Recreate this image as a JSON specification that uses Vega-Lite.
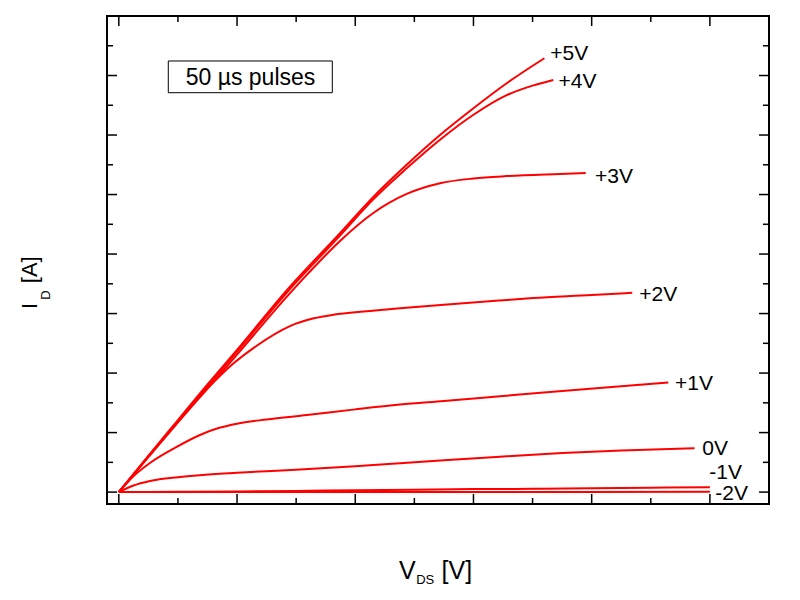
{
  "$schema": "https://vega.github.io/schema/vega-lite/v6.json",
  "width": 662,
  "height": 488,
  "autosize": {"type": "none"},
  "padding": {"left": 107, "top": 16, "right": 31, "bottom": 96},
  "background": "white",
  "config": {
    "font": "Liberation Sans",
    "view": {"stroke": "black", "strokeWidth": 2},
    "axis": {
      "grid": false,
      "domain": false,
      "title": null,
      "labelFont": "Liberation Sans",
      "labelColor": "black"
    }
  },
  "datasets": {
    "curves": [
      {"gate": "+5V", "vds": 0, "id": 0},
      {"gate": "+5V", "vds": 0.5, "id": 6.1},
      {"gate": "+5V", "vds": 1, "id": 12.1},
      {"gate": "+5V", "vds": 1.5, "id": 18.1},
      {"gate": "+5V", "vds": 2, "id": 23.9},
      {"gate": "+5V", "vds": 2.84, "id": 33.9},
      {"gate": "+5V", "vds": 3.742, "id": 43.5},
      {"gate": "+5V", "vds": 4.305, "id": 49.6},
      {"gate": "+5V", "vds": 4.87, "id": 55.0},
      {"gate": "+5V", "vds": 5.434, "id": 60.0},
      {"gate": "+5V", "vds": 6.0, "id": 64.5},
      {"gate": "+5V", "vds": 6.562, "id": 68.7},
      {"gate": "+5V", "vds": 7.2, "id": 72.9},
      {"gate": "+4V", "vds": 0, "id": 0},
      {"gate": "+4V", "vds": 0.5, "id": 6.0},
      {"gate": "+4V", "vds": 1, "id": 11.9},
      {"gate": "+4V", "vds": 1.5, "id": 17.8},
      {"gate": "+4V", "vds": 2, "id": 23.6},
      {"gate": "+4V", "vds": 2.84, "id": 33.5},
      {"gate": "+4V", "vds": 3.742, "id": 43.1},
      {"gate": "+4V", "vds": 4.305, "id": 49.2},
      {"gate": "+4V", "vds": 4.87, "id": 54.4},
      {"gate": "+4V", "vds": 5.434, "id": 59.2},
      {"gate": "+4V", "vds": 6.0, "id": 63.4},
      {"gate": "+4V", "vds": 6.562, "id": 66.7},
      {"gate": "+4V", "vds": 7.0, "id": 68.3},
      {"gate": "+4V", "vds": 7.35, "id": 69.25},
      {"gate": "+3V", "vds": 0, "id": 0},
      {"gate": "+3V", "vds": 0.5, "id": 5.9},
      {"gate": "+3V", "vds": 1, "id": 11.7},
      {"gate": "+3V", "vds": 1.5, "id": 17.4},
      {"gate": "+3V", "vds": 2, "id": 23.1},
      {"gate": "+3V", "vds": 2.84, "id": 32.8},
      {"gate": "+3V", "vds": 3.2, "id": 36.7},
      {"gate": "+3V", "vds": 3.742, "id": 42.2},
      {"gate": "+3V", "vds": 4.305, "id": 46.9},
      {"gate": "+3V", "vds": 4.87, "id": 50.1},
      {"gate": "+3V", "vds": 5.434, "id": 51.9},
      {"gate": "+3V", "vds": 6.0, "id": 52.7},
      {"gate": "+3V", "vds": 6.562, "id": 53.1},
      {"gate": "+3V", "vds": 7.464, "id": 53.45},
      {"gate": "+3V", "vds": 7.9, "id": 53.6},
      {"gate": "+2V", "vds": 0, "id": 0},
      {"gate": "+2V", "vds": 0.5, "id": 6.0},
      {"gate": "+2V", "vds": 1, "id": 11.8},
      {"gate": "+2V", "vds": 1.204, "id": 14.2},
      {"gate": "+2V", "vds": 1.5, "id": 17.4},
      {"gate": "+2V", "vds": 1.937, "id": 21.6},
      {"gate": "+2V", "vds": 2.333, "id": 24.6},
      {"gate": "+2V", "vds": 2.896, "id": 27.9},
      {"gate": "+2V", "vds": 3.3, "id": 29.2},
      {"gate": "+2V", "vds": 3.629, "id": 29.8},
      {"gate": "+2V", "vds": 4.2, "id": 30.4},
      {"gate": "+2V", "vds": 4.757, "id": 30.9},
      {"gate": "+2V", "vds": 5.5, "id": 31.5},
      {"gate": "+2V", "vds": 6.449, "id": 32.2},
      {"gate": "+2V", "vds": 7.01, "id": 32.6},
      {"gate": "+2V", "vds": 8.0, "id": 33.1},
      {"gate": "+2V", "vds": 8.687, "id": 33.5},
      {"gate": "+1V", "vds": 0, "id": 0},
      {"gate": "+1V", "vds": 0.25, "id": 2.7},
      {"gate": "+1V", "vds": 0.527, "id": 4.9},
      {"gate": "+1V", "vds": 0.979, "id": 7.6},
      {"gate": "+1V", "vds": 1.373, "id": 9.6},
      {"gate": "+1V", "vds": 1.7, "id": 10.8},
      {"gate": "+1V", "vds": 2.0, "id": 11.5},
      {"gate": "+1V", "vds": 2.5, "id": 12.2},
      {"gate": "+1V", "vds": 3.18, "id": 12.95},
      {"gate": "+1V", "vds": 4.0, "id": 13.9},
      {"gate": "+1V", "vds": 4.757, "id": 14.7},
      {"gate": "+1V", "vds": 5.5, "id": 15.3},
      {"gate": "+1V", "vds": 6.449, "id": 16.1},
      {"gate": "+1V", "vds": 7.5, "id": 17.0},
      {"gate": "+1V", "vds": 8.5, "id": 17.8},
      {"gate": "+1V", "vds": 9.297, "id": 18.4},
      {"gate": "0V", "vds": 0, "id": 0},
      {"gate": "0V", "vds": 0.25, "id": 1.1},
      {"gate": "0V", "vds": 0.527, "id": 1.85},
      {"gate": "0V", "vds": 1, "id": 2.5},
      {"gate": "0V", "vds": 1.373, "id": 2.85},
      {"gate": "0V", "vds": 2, "id": 3.25},
      {"gate": "0V", "vds": 3.065, "id": 3.8},
      {"gate": "0V", "vds": 4.0, "id": 4.35},
      {"gate": "0V", "vds": 4.757, "id": 4.85},
      {"gate": "0V", "vds": 5.5, "id": 5.35},
      {"gate": "0V", "vds": 6.449, "id": 5.95},
      {"gate": "0V", "vds": 7.5, "id": 6.55},
      {"gate": "0V", "vds": 8.5, "id": 7.0},
      {"gate": "0V", "vds": 9.74, "id": 7.36},
      {"gate": "-1V", "vds": 0, "id": 0},
      {"gate": "-1V", "vds": 1, "id": 0.05},
      {"gate": "-1V", "vds": 2, "id": 0.1},
      {"gate": "-1V", "vds": 3, "id": 0.2},
      {"gate": "-1V", "vds": 4, "id": 0.3},
      {"gate": "-1V", "vds": 5, "id": 0.4},
      {"gate": "-1V", "vds": 6, "id": 0.5},
      {"gate": "-1V", "vds": 7, "id": 0.55},
      {"gate": "-1V", "vds": 8, "id": 0.65},
      {"gate": "-1V", "vds": 9, "id": 0.75},
      {"gate": "-1V", "vds": 10, "id": 0.8},
      {"gate": "-2V", "vds": 0, "id": 0},
      {"gate": "-2V", "vds": 5, "id": 0.02},
      {"gate": "-2V", "vds": 10, "id": 0.05}
    ],
    "anno": [
      {"gate": "+5V", "x": 7.3, "y": 72.6},
      {"gate": "+4V", "x": 7.44, "y": 67.85},
      {"gate": "+3V", "x": 8.056, "y": 52.0},
      {"gate": "+2V", "x": 8.806, "y": 32.16},
      {"gate": "+1V", "x": 9.41, "y": 17.15},
      {"gate": "0V", "x": 9.87, "y": 6.23},
      {"gate": "-1V", "x": 9.99, "y": 2.14},
      {"gate": "-2V", "x": 10.09, "y": -1.33}
    ],
    "xmajor": [{"v": 0}, {"v": 2}, {"v": 4}, {"v": 6}, {"v": 8}, {"v": 10}],
    "xminor": [{"v": 1}, {"v": 3}, {"v": 5}, {"v": 7}, {"v": 9}],
    "ymajor": [{"v": 0}, {"v": 10}, {"v": 20}, {"v": 30}, {"v": 40}, {"v": 50}, {"v": 60}, {"v": 70}, {"v": 80}],
    "yminor": [{"v": 5}, {"v": 15}, {"v": 25}, {"v": 35}, {"v": 45}, {"v": 55}, {"v": 65}, {"v": 75}],
    "note": [
      {"text": "50 µs pulses", "x1": 0.837, "x2": 3.612, "y1": 67.11, "y2": 72.44, "tx": 2.228, "ty": 68.41}
    ],
    "xtitle": [
      {"t": "V", "x": 4.74, "y": -14.6},
      {"t": "[V]", "x": 5.46, "y": -14.6}
    ],
    "xsub": [
      {"t": "DS", "x": 5.03, "y": -15.45}
    ],
    "ytitle": [
      {"t": "I", "x": -1.384, "y": 30.75},
      {"t": "[A]", "x": -1.384, "y": 35.1}
    ],
    "ysub": [
      {"t": "D", "x": -1.17, "y": 32.3}
    ]
  },
  "layer": [
    {
      "data": {"name": "curves"},
      "mark": {"type": "line", "color": "#ff0000", "strokeWidth": 2, "interpolate": "monotone"},
      "encoding": {
        "x": {"field": "vds", "type": "quantitative", "scale": {"domain": [-0.2, 11], "nice": false, "zero": false},
              "axis": {"orient": "bottom", "values": [0, 2, 4, 6, 8, 10], "ticks": false, "labelPadding": 13, "labelFontSize": 23, "labelFlush": false}},
        "y": {"field": "id", "type": "quantitative", "scale": {"domain": [-2, 80], "nice": false, "zero": false},
              "axis": {"orient": "left", "values": [0, 10, 20, 30, 40, 50, 60, 70, 80], "ticks": false, "labelPadding": 11, "labelFontSize": 22, "labelFlush": false}},
        "detail": {"field": "gate", "type": "nominal"}
      }
    },
    {
      "data": {"name": "xmajor"},
      "mark": {"type": "rule", "color": "black", "strokeWidth": 1.5},
      "encoding": {
        "x": {"field": "v", "type": "quantitative", "axis": null},
        "y": {"datum": -2, "type": "quantitative", "axis": null},
        "y2": {"datum": -0.32}
      }
    },
    {
      "data": {"name": "xmajor"},
      "mark": {"type": "rule", "color": "black", "strokeWidth": 1.5},
      "encoding": {
        "x": {"field": "v", "type": "quantitative", "axis": null},
        "y": {"datum": 80, "type": "quantitative", "axis": null},
        "y2": {"datum": 78.32}
      }
    },
    {
      "data": {"name": "xminor"},
      "mark": {"type": "rule", "color": "black", "strokeWidth": 1.5},
      "encoding": {
        "x": {"field": "v", "type": "quantitative", "axis": null},
        "y": {"datum": -2, "type": "quantitative", "axis": null},
        "y2": {"datum": -0.99}
      }
    },
    {
      "data": {"name": "xminor"},
      "mark": {"type": "rule", "color": "black", "strokeWidth": 1.5},
      "encoding": {
        "x": {"field": "v", "type": "quantitative", "axis": null},
        "y": {"datum": 80, "type": "quantitative", "axis": null},
        "y2": {"datum": 78.99}
      }
    },
    {
      "data": {"name": "ymajor"},
      "mark": {"type": "rule", "color": "black", "strokeWidth": 1.5},
      "encoding": {
        "y": {"field": "v", "type": "quantitative", "axis": null},
        "x": {"datum": -0.2, "type": "quantitative", "axis": null},
        "x2": {"datum": -0.031}
      }
    },
    {
      "data": {"name": "ymajor"},
      "mark": {"type": "rule", "color": "black", "strokeWidth": 1.5},
      "encoding": {
        "y": {"field": "v", "type": "quantitative", "axis": null},
        "x": {"datum": 11, "type": "quantitative", "axis": null},
        "x2": {"datum": 10.831}
      }
    },
    {
      "data": {"name": "yminor"},
      "mark": {"type": "rule", "color": "black", "strokeWidth": 1.5},
      "encoding": {
        "y": {"field": "v", "type": "quantitative", "axis": null},
        "x": {"datum": -0.2, "type": "quantitative", "axis": null},
        "x2": {"datum": -0.098}
      }
    },
    {
      "data": {"name": "yminor"},
      "mark": {"type": "rule", "color": "black", "strokeWidth": 1.5},
      "encoding": {
        "y": {"field": "v", "type": "quantitative", "axis": null},
        "x": {"datum": 11, "type": "quantitative", "axis": null},
        "x2": {"datum": 10.898}
      }
    },
    {
      "data": {"name": "anno"},
      "mark": {"type": "text", "align": "left", "baseline": "alphabetic", "fontSize": 21, "color": "black", "font": "Liberation Sans"},
      "encoding": {
        "x": {"field": "x", "type": "quantitative", "axis": null},
        "y": {"field": "y", "type": "quantitative", "axis": null},
        "text": {"field": "gate", "type": "nominal"}
      }
    },
    {
      "data": {"name": "note"},
      "mark": {"type": "rect", "fill": "white", "stroke": "black", "strokeWidth": 1},
      "encoding": {
        "x": {"field": "x1", "type": "quantitative", "axis": null},
        "x2": {"field": "x2"},
        "y": {"field": "y1", "type": "quantitative", "axis": null},
        "y2": {"field": "y2"}
      }
    },
    {
      "data": {"name": "note"},
      "mark": {"type": "text", "align": "center", "baseline": "alphabetic", "fontSize": 23, "color": "black", "font": "Liberation Sans"},
      "encoding": {
        "x": {"field": "tx", "type": "quantitative", "axis": null},
        "y": {"field": "ty", "type": "quantitative", "axis": null},
        "text": {"field": "text", "type": "nominal"}
      }
    },
    {
      "data": {"name": "xtitle"},
      "mark": {"type": "text", "align": "left", "baseline": "alphabetic", "fontSize": 25, "color": "black", "font": "Liberation Sans"},
      "encoding": {
        "x": {"field": "x", "type": "quantitative", "axis": null},
        "y": {"field": "y", "type": "quantitative", "axis": null},
        "text": {"field": "t", "type": "nominal"}
      }
    },
    {
      "data": {"name": "xsub"},
      "mark": {"type": "text", "align": "left", "baseline": "alphabetic", "fontSize": 13, "color": "black", "font": "Liberation Sans"},
      "encoding": {
        "x": {"field": "x", "type": "quantitative", "axis": null},
        "y": {"field": "y", "type": "quantitative", "axis": null},
        "text": {"field": "t", "type": "nominal"}
      }
    },
    {
      "data": {"name": "ytitle"},
      "mark": {"type": "text", "align": "left", "baseline": "alphabetic", "angle": 270, "fontSize": 22, "color": "black", "font": "Liberation Sans"},
      "encoding": {
        "x": {"field": "x", "type": "quantitative", "axis": null},
        "y": {"field": "y", "type": "quantitative", "axis": null},
        "text": {"field": "t", "type": "nominal"}
      }
    },
    {
      "data": {"name": "ysub"},
      "mark": {"type": "text", "align": "left", "baseline": "alphabetic", "angle": 270, "fontSize": 13, "color": "black", "font": "Liberation Sans"},
      "encoding": {
        "x": {"field": "x", "type": "quantitative", "axis": null},
        "y": {"field": "y", "type": "quantitative", "axis": null},
        "text": {"field": "t", "type": "nominal"}
      }
    }
  ]
}
